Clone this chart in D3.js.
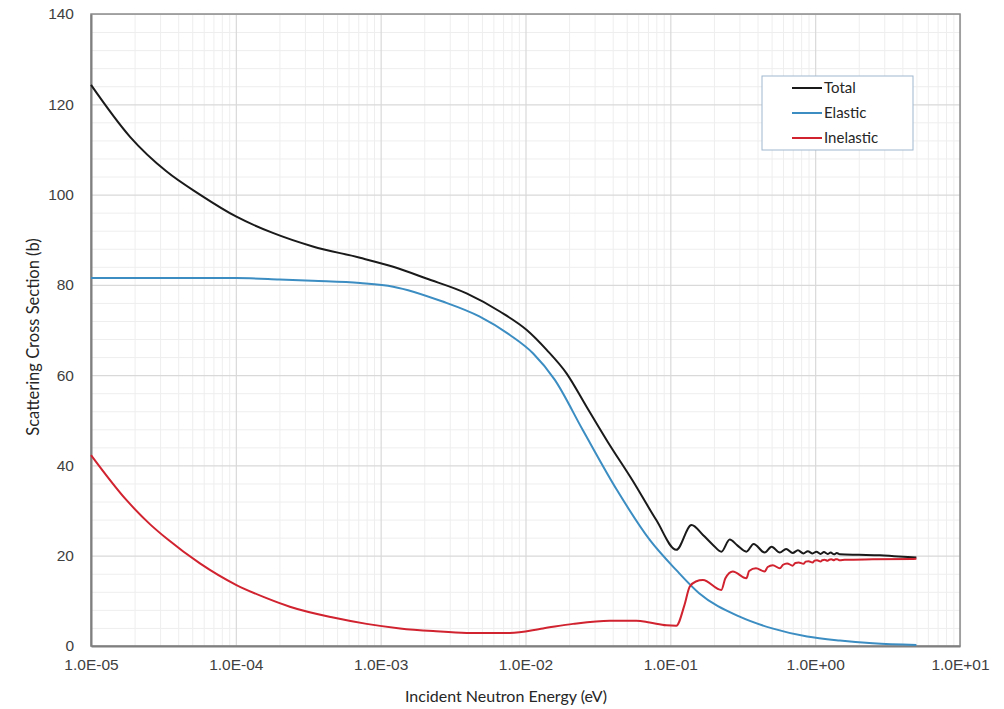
<!DOCTYPE html>
<html>
<head>
<meta charset="utf-8">
<script src="https://cdn.jsdelivr.net/npm/d3@7"></script>
<style>
  body { margin: 0; background: #ffffff; }
  svg { font-family: Lato, "Open Sans", sans-serif; }
  .tick-label { fill: #404040; font-size: 15.5px; }
  .axis-title { fill: #262626; font-size: 16px; }
  .legend-label { fill: #262626; font-size: 15px; }
</style>
</head>
<body>
<div id="chart"></div>
<script>

// data (energy in eV, cross sections in barns)

const energyTotal = [1e-5, 1.86e-5, 3.33e-5, 5.65e-5, 1.01e-4, 1.8e-4, 3.4e-4, 7.2e-4,
  1.22e-3, 2.07e-3, 3.92e-3, 6.65e-3, 1.02e-2, 1.4e-2, 1.92e-2, 2.64e-2, 3.7e-2,
  5.5e-2, 8.0e-2, 0.110, 0.140, 0.168, 0.197, 0.225, 0.257, 0.29, 0.335, 0.376,
  0.448, 0.50, 0.57, 0.63, 0.70, 0.76, 0.83, 0.89, 0.96, 1.02, 1.09, 1.15, 1.22,
  1.28, 1.35, 1.41, 1.48, 2.0, 2.8, 3.5, 5.0];
const sigmaTotal = [124.3, 112.8, 105.1, 100.0, 95.1, 91.5, 88.5, 86.0,
  84.0, 81.4, 78.1, 74.1, 70.0, 65.6, 60.4, 53.0, 45.2,
  36.6, 27.9, 21.3, 26.8, 24.6, 22.4, 20.9, 23.6, 22.3, 20.9, 22.6,
  20.7, 22.0, 20.7, 21.5, 20.6, 21.2, 20.5, 21.0, 20.5, 20.9, 20.4, 20.8, 20.4,
  20.7, 20.3, 20.6, 20.3, 20.2, 20.1, 19.9, 19.6];

const energyElastic = [1e-5, 1e-4, 2e-4, 3.4e-4, 7.2e-4, 1.22e-3, 2.68e-3, 4.8e-3,
  7.8e-3, 1.13e-2, 1.59e-2, 2.48e-2, 4.27e-2, 7.21e-2, 0.110,
  0.158, 0.301, 0.505, 0.88, 1.48, 2.5, 5.0];
const sigmaElastic = [81.5, 81.5, 81.2, 80.9, 80.4, 79.6, 76.3, 73.0,
  68.9, 64.8, 59.0, 47.9, 34.6, 23.5, 16.8,
  11.7, 6.5, 3.9, 2.1, 1.2, 0.6, 0.2];

const energyInelastic = [1e-5, 1.76e-5, 2.55e-5, 3.33e-5, 5.65e-5, 1.01e-4, 1.63e-4,
  2.36e-4, 4.7e-4, 8.0e-4, 1.36e-3, 2.3e-3, 3.92e-3, 7.8e-3, 1.32e-2, 2.13e-2,
  3.82e-2, 5.83e-2, 7.2e-2, 9.4e-2, 0.110, 0.125, 0.136, 0.15, 0.168, 0.225, 0.24,
  0.27, 0.335, 0.35, 0.39, 0.448, 0.47, 0.51, 0.57, 0.60, 0.64, 0.70, 0.73, 0.77,
  0.83, 0.86, 0.90, 0.96, 0.99, 1.03, 1.09, 1.12, 1.16, 1.22, 1.25, 1.29, 1.35,
  1.38, 1.42, 1.48, 1.6, 2.5, 5.0];
const sigmaInelastic = [42.3, 32.3, 27.0, 23.8, 18.3, 13.5, 10.6,
  8.7, 6.3, 4.9, 3.9, 3.3, 2.9, 2.9, 3.9, 4.9,
  5.6, 5.6, 5.2, 4.6, 4.5, 9.0, 13.1, 14.3, 14.6, 12.4, 15.0,
  16.5, 15.0, 16.6, 17.2, 16.5, 17.5, 17.9, 17.2, 18.0, 18.3, 17.8, 18.4, 18.5,
  18.2, 18.7, 18.8, 18.5, 18.9, 19.0, 18.7, 19.0, 19.1, 18.9, 19.1, 19.2, 19.0,
  19.2, 19.2, 19.0, 19.1, 19.2, 19.3];

const seriesNames = ["Total", "Elastic", "Inelastic"];
const seriesColors = ["#1a1a1a", "#3b8dc2", "#d0222f"];

const xTickValues = [1e-5, 1e-4, 1e-3, 1e-2, 1e-1, 1, 10];
const xTickLabels = ["1.0E-05", "1.0E-04", "1.0E-03", "1.0E-02", "1.0E-01", "1.0E+00", "1.0E+01"];
const yTickValues = [0, 20, 40, 60, 80, 100, 120, 140];


// frame constants

const FRAME_WIDTH = 1004;
const FRAME_HEIGHT = 709;
const MARGINS = {left: 91, right: 44, top: 14, bottom: 63};
const VIS_WIDTH = FRAME_WIDTH - MARGINS.left - MARGINS.right;
const VIS_HEIGHT = FRAME_HEIGHT - MARGINS.top - MARGINS.bottom;

const FRAME = d3.select("#chart")
                .append("svg")
                  .attr("width", FRAME_WIDTH)
                  .attr("height", FRAME_HEIGHT);

const X_SCALE = d3.scaleLog()
                  .domain([1e-5, 10])
                  .range([0, VIS_WIDTH]);

const Y_SCALE = d3.scaleLinear()
                  .domain([0, 140])
                  .range([VIS_HEIGHT, 0]);

const PLOT = FRAME.append("g")
                  .attr("transform", "translate(" + MARGINS.left + "," + MARGINS.top + ")");


// minor grid lines (x: 2..9 per decade, y: every 4 b)
const xMinor = [];
xTickValues.slice(0, -1).forEach((d) => {
  for (let m = 2; m <= 9; m++) { xMinor.push(d * m); }
});
const yMinor = d3.range(0, 141, 4).filter((v) => v % 20 !== 0);

PLOT.append("g")
    .call(d3.axisBottom(X_SCALE).tickValues(xMinor).tickSize(VIS_HEIGHT).tickFormat(""))
    .call((g) => g.select(".domain").remove())
    .call((g) => g.selectAll("line").attr("stroke", "#eeeeee").attr("stroke-width", 1));

PLOT.append("g")
    .call(d3.axisLeft(Y_SCALE).tickValues(yMinor).tickSize(-VIS_WIDTH).tickFormat(""))
    .call((g) => g.select(".domain").remove())
    .call((g) => g.selectAll("line").attr("stroke", "#eeeeee").attr("stroke-width", 1));

// major grid lines
PLOT.append("g")
    .call(d3.axisBottom(X_SCALE).tickValues(xTickValues).tickSize(VIS_HEIGHT).tickFormat(""))
    .call((g) => g.select(".domain").remove())
    .call((g) => g.selectAll("line").attr("stroke", "#d9d9d9").attr("stroke-width", 1.2));

PLOT.append("g")
    .call(d3.axisLeft(Y_SCALE).tickValues(yTickValues).tickSize(-VIS_WIDTH).tickFormat(""))
    .call((g) => g.select(".domain").remove())
    .call((g) => g.selectAll("line").attr("stroke", "#d9d9d9").attr("stroke-width", 1.2));

// plot border
PLOT.append("rect")
    .attr("x", 0)
    .attr("y", 0)
    .attr("width", VIS_WIDTH)
    .attr("height", VIS_HEIGHT)
    .attr("fill", "none")
    .attr("stroke", "#8c8c8c")
    .attr("stroke-width", 1.5);

// axes with labels
PLOT.append("g")
    .attr("transform", "translate(0," + VIS_HEIGHT + ")")
    .call(d3.axisBottom(X_SCALE).tickValues(xTickValues).tickSize(0).tickPadding(13)
            .tickFormat((d, i) => xTickLabels[i]))
    .call((g) => g.select(".domain").attr("stroke", "#7f7f7f").attr("stroke-width", 2))
    .call((g) => g.selectAll("text").attr("class", "tick-label").attr("font-family", null).attr("font-size", null));

PLOT.append("g")
    .call(d3.axisLeft(Y_SCALE).tickValues(yTickValues).tickSize(0).tickPadding(17))
    .call((g) => g.select(".domain").attr("stroke", "#7f7f7f").attr("stroke-width", 2))
    .call((g) => g.selectAll("text").attr("class", "tick-label").attr("font-family", null).attr("font-size", null));


// series lines
const allSeries = [
  {name: seriesNames[0], color: seriesColors[0], xs: energyTotal, ys: sigmaTotal},
  {name: seriesNames[1], color: seriesColors[1], xs: energyElastic, ys: sigmaElastic},
  {name: seriesNames[2], color: seriesColors[2], xs: energyInelastic, ys: sigmaInelastic}
];

const LINE = d3.line()
               .x((d) => X_SCALE(d[0]))
               .y((d) => Y_SCALE(d[1]))
               .curve(d3.curveMonotoneX);

PLOT.selectAll(".series")
    .data([allSeries[1], allSeries[0], allSeries[2]])
    .enter()
    .append("path")
      .attr("class", "series")
      .attr("d", (s) => LINE(s.xs.map((x, i) => [x, s.ys[i]])))
      .attr("fill", "none")
      .attr("stroke", (s) => s.color)
      .attr("stroke-width", 2);


// axis titles
FRAME.append("text")
    .attr("class", "axis-title")
    .attr("x", 506)
    .attr("y", 702)
    .attr("text-anchor", "middle")
    .text("Incident Neutron Energy (eV)");

FRAME.append("text")
    .attr("class", "axis-title")
    .attr("transform", "translate(39,337) rotate(-90)")
    .attr("text-anchor", "middle")
    .style("font-size", "16.5px")
    .text("Scattering Cross Section (b)");


// legend
const LEGEND = FRAME.append("g")
                    .attr("transform", "translate(762,76)");

LEGEND.append("rect")
      .attr("width", 151)
      .attr("height", 74)
      .attr("fill", "#ffffff")
      .attr("stroke", "#9fb8cf")
      .attr("stroke-width", 1);

LEGEND.selectAll(".legend-line")
      .data(allSeries)
      .enter()
      .append("line")
        .attr("x1", 30)
        .attr("x2", 60)
        .attr("y1", (d, i) => 12 + i * 25)
        .attr("y2", (d, i) => 12 + i * 25)
        .attr("stroke", (d) => d.color)
        .attr("stroke-width", 2);

LEGEND.selectAll(".legend-label")
      .data(allSeries)
      .enter()
      .append("text")
        .attr("class", "legend-label")
        .attr("x", 62)
        .attr("y", (d, i) => 12 + i * 25)
        .attr("dy", "0.35em")
        .text((d) => d.name);

</script>
</body>
</html>
